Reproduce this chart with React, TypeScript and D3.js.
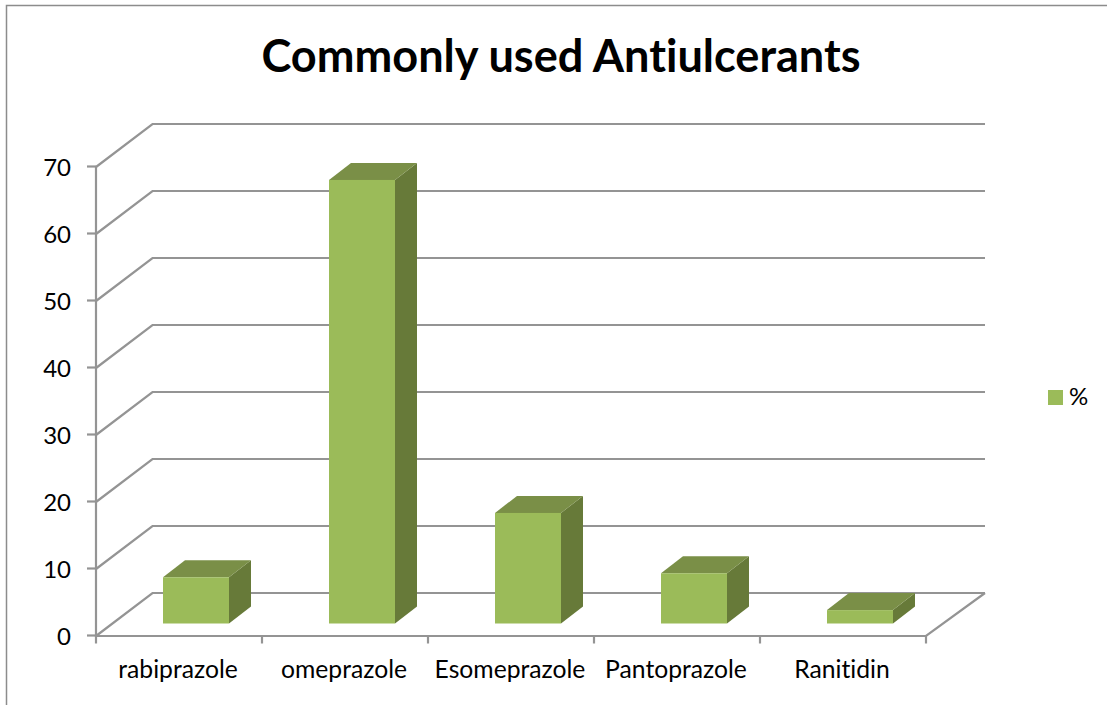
import React from 'react';
import * as d3 from 'd3';

const drugs = ['rabiprazole', 'omeprazole', 'Esomeprazole', 'Pantoprazole', 'Ranitidin'];
const percents = [6.9, 66.2, 16.5, 7.5, 2];
const yTicks = [0, 10, 20, 30, 40, 50, 60, 70];

const FONT = 'Lato, Carlito, "Open Sans", sans-serif';
const GRID = '#949494';

// oblique offset of the back wall and of the bar depth
const wall = { dx: 56.5, dy: -43 };
const depth = { dx: 22, dy: -17 };
const barInset = { dx: 17, dy: -12.5 };

const y = d3.scaleLinear().domain([0, 70]).range([636, 167]);
const x = d3.scaleBand().domain(drugs).range([96, 926]);

const poly = d3.line<number[]>();

const App = () => {
  const barW = 66;

  return (
    <svg
      width={1107}
      height={705}
      style={{ position: 'absolute', left: 0, top: 0, background: '#fff', fontVariantLigatures: 'none' }}
      fontFamily={FONT}
    >
      {/* outer chart border, only top and left are in frame */}
      <path d="M6.5,705V5.5H1107" fill="none" stroke="#8c8c8c" strokeWidth={1.5} />

      <text x={561} y={72} textAnchor="middle" fontSize={45.1} fontWeight={700} fill="#000">
        Commonly used Antiulcerants
      </text>

      {/* walls */}
      {yTicks.map(t => (
        <g key={t}>
          <path
            d={poly([
              [96, y(t)],
              [96 + wall.dx, y(t) + wall.dy],
              [985, y(t) + wall.dy],
            ]) ?? ''}
            fill="none"
            stroke={GRID}
            strokeWidth={2.2}
          />
          <line x1={87} x2={96} y1={y(t) - 0.5} y2={y(t) - 0.5} stroke={GRID} strokeWidth={2.2} />
          <text x={71} y={y(t) + 9} textAnchor="end" fontSize={24} fill="#000">
            {t}
          </text>
        </g>
      ))}

      {/* floor and axes */}
      <path
        d={poly([
          [96, y(70)],
          [96, y(0)],
          [926, y(0)],
          [926 + wall.dx + 2.5, y(0) + wall.dy],
        ]) ?? ''}
        fill="none"
        stroke={GRID}
        strokeWidth={2.2}
      />
      {[...drugs.map(d => x(d) as number), 926].map(px => (
        <line key={px} x1={px} x2={px} y1={y(0)} y2={643.5} stroke={GRID} strokeWidth={2.2} />
      ))}

      {/* bars */}
      {drugs.map((d, i) => {
        const left = (x(d) as number) + barInset.dx + (x.bandwidth() - barW) / 2;
        const right = left + barW;
        const base = y(0) + barInset.dy;
        const top = y(percents[i]) + barInset.dy;
        return (
          <g key={d}>
            <path
              d={poly([
                [right, top],
                [right + depth.dx, top + depth.dy],
                [right + depth.dx, base + depth.dy],
                [right, base],
              ]) + 'Z'}
              fill="#677a39"
            />
            <path
              d={poly([
                [left, top],
                [left + depth.dx, top + depth.dy],
                [right + depth.dx, top + depth.dy],
                [right, top],
              ]) + 'Z'}
              fill="#7a8f47"
            />
            <rect x={left} y={top} width={barW} height={base - top} fill="#9bbb59" />
          </g>
        );
      })}

      {drugs.map(d => (
        <text
          key={d}
          x={(x(d) as number) + x.bandwidth() / 2 - 1}
          y={678}
          textAnchor="middle"
          fontSize={24.7}
          fill="#000"
        >
          {d}
        </text>
      ))}

      {/* legend */}
      <rect x={1048} y={390} width={15} height={15} fill="#9bbb59" />
      <text x={1069} y={405} fontSize={24} fill="#000">
        %
      </text>
    </svg>
  );
};

export default App;
